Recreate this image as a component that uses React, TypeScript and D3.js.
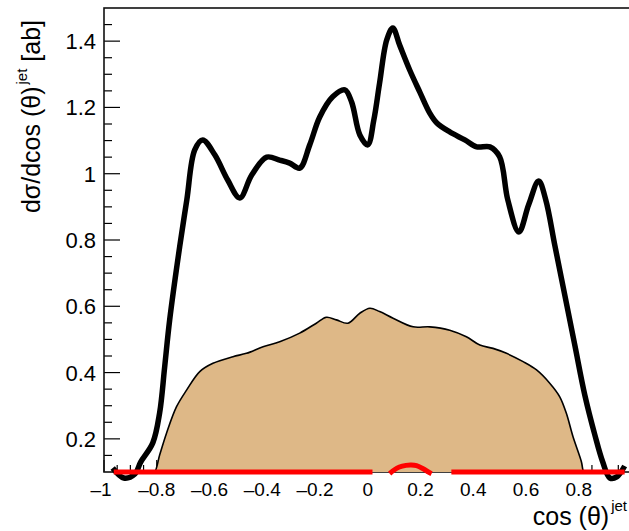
import React from 'react';
import * as d3 from 'd3';

const W = 629;
const H = 531;
const FONT = 'Liberation Sans, Arial, Helvetica, sans-serif';

// Total cross section (thick black curve)
const totalX = [-0.967, -0.925, -0.883, -0.861, -0.815, -0.789, -0.77, -0.751, -0.713, -0.686, -0.656, -0.626, -0.58, -0.531, -0.485, -0.44, -0.383, -0.334, -0.296, -0.258, -0.22, -0.182, -0.133, -0.087, -0.061, -0.03, 0.0, 0.023, 0.045, 0.072, 0.095, 0.121, 0.159, 0.197, 0.235, 0.262, 0.311, 0.368, 0.413, 0.463, 0.5, 0.531, 0.573, 0.61, 0.648, 0.675, 0.709, 0.747, 0.785, 0.823, 0.861, 0.891, 0.918, 0.944, 0.974];
const totalY = [0.112, 0.082, 0.094, 0.13, 0.188, 0.279, 0.417, 0.559, 0.78, 0.921, 1.072, 1.102, 1.057, 0.981, 0.927, 0.996, 1.05, 1.041, 1.032, 1.017, 1.087, 1.171, 1.232, 1.253, 1.216, 1.117, 1.087, 1.162, 1.274, 1.404, 1.44, 1.388, 1.313, 1.247, 1.183, 1.153, 1.126, 1.102, 1.081, 1.081, 1.051, 0.921, 0.824, 0.906, 0.978, 0.921, 0.785, 0.634, 0.483, 0.332, 0.212, 0.13, 0.082, 0.085, 0.118];

// Filled component (tan histogram)
const fillX = [-0.818, -0.808, -0.789, -0.763, -0.725, -0.687, -0.637, -0.587, -0.511, -0.46, -0.397, -0.334, -0.258, -0.195, -0.157, -0.119, -0.075, -0.03, 0.008, 0.045, 0.096, 0.172, 0.235, 0.311, 0.374, 0.425, 0.475, 0.526, 0.589, 0.64, 0.69, 0.728, 0.753, 0.778, 0.81, 0.816, 0.82];
const fillY = [0.1, 0.1, 0.151, 0.217, 0.297, 0.347, 0.403, 0.428, 0.448, 0.458, 0.478, 0.493, 0.519, 0.549, 0.567, 0.559, 0.549, 0.579, 0.594, 0.584, 0.564, 0.538, 0.538, 0.528, 0.508, 0.483, 0.473, 0.458, 0.433, 0.408, 0.368, 0.327, 0.277, 0.207, 0.131, 0.106, 0.1];

// Interference term (red), NaN marks a break in the line
const redX = [-0.963, 0.018, NaN, 0.083, 0.1, 0.12, 0.145, 0.165, 0.185, 0.21, 0.23, 0.242, NaN, 0.317, 0.974];
const redY = [0.1, 0.1, NaN, 0.095, 0.106, 0.115, 0.12, 0.121, 0.119, 0.11, 0.1, 0.095, NaN, 0.1, 0.1];

const yTicks = [0.2, 0.4, 0.6, 0.8, 1.0, 1.2, 1.4];
const yTickLabels = ['0.2', '0.4', '0.6', '0.8', '1', '1.2', '1.4'];
const xTicks = [-1, -0.8, -0.6, -0.4, -0.2, 0, 0.2, 0.4, 0.6, 0.8];
const xTickLabels = ['\u20131', '\u20130.8', '\u20130.6', '\u20130.4', '\u20130.2', '0', '0.2', '0.4', '0.6', '0.8'];

export default function App() {
  const x = d3.scaleLinear().domain([-1, 1]).range([104, 631.5]);
  const y = d3.scaleLinear().domain([0.1, 1.5]).range([472, 8]);

  const totalPts: [number, number][] = totalX.map((v, i) => [v, totalY[i]]);
  const fillPts: [number, number][] = fillX.map((v, i) => [v, fillY[i]]);
  const redPts: [number, number][] = redX.map((v, i) => [v, redY[i]]);

  const smooth = d3.curveCatmullRom.alpha(0.5);
  const line = d3.line<[number, number]>().x(d => x(d[0])).y(d => y(d[1])).curve(smooth);
  const area = d3
    .area<[number, number]>()
    .x(d => x(d[0]))
    .y0(y(0.1))
    .y1(d => y(d[1]))
    .curve(smooth);
  const redLine = d3
    .line<[number, number]>()
    .defined(d => !isNaN(d[0]))
    .x(d => x(d[0]))
    .y(d => y(d[1]))
    .curve(smooth);

  const yMinor = d3.range(0.15, 1.5, 0.05).filter(v => !yTicks.some(t => Math.abs(t - v) < 1e-6));
  const xMinor = d3.range(-0.95, 1.0, 0.05).filter(v => !xTicks.some(t => Math.abs(t - v) < 1e-6));

  const [xl, xr] = x.range();
  const [yb, yt] = y.range();

  return (
    <svg
      width={W}
      height={H}
      style={{ position: 'absolute', left: 0, top: 0, background: '#fff' }}
      fontFamily={FONT}
    >
      <rect x={0} y={0} width={W} height={H} fill="#fff" />

      {/* axis ticks */}
      <g stroke="#000" strokeWidth={1.2}>
        {yTicks.map(t => (
          <line key={'ym' + t} x1={xl} x2={xl + 16} y1={y(t)} y2={y(t)} />
        ))}
        {yMinor.map(t => (
          <line key={'yn' + t} x1={xl} x2={xl + 8} y1={y(t)} y2={y(t)} />
        ))}
        {xTicks.map(t => (
          <line key={'xm' + t} x1={x(t)} x2={x(t)} y1={yb} y2={yb - 12} />
        ))}
        {xMinor.map(t => (
          <line key={'xn' + t} x1={x(t)} x2={x(t)} y1={yb} y2={yb - 7} />
        ))}
      </g>

      {/* frame */}
      <rect x={xl} y={yt} width={xr - xl} height={yb - yt} fill="none" stroke="#111" strokeWidth={1.6} />

      {/* tan component */}
      <path d={area(fillPts) ?? ''} fill="#deb887" stroke="none" />
      <path d={line(fillPts) ?? ''} fill="none" stroke="#000" strokeWidth={1.6} />

      {/* total */}
      <path d={line(totalPts) ?? ''} fill="none" stroke="#000" strokeWidth={5.5} strokeLinejoin="round" />

      {/* red term */}
      <path d={redLine(redPts) ?? ''} fill="none" stroke="#ff0000" strokeWidth={5} />

      {/* y tick labels */}
      <g fontSize={22} textAnchor="end" fill="#000">
        {yTicks.map((t, i) => (
          <text key={'yl' + t} x={96} y={y(t) + 8}>
            {yTickLabels[i]}
          </text>
        ))}
      </g>

      {/* x tick labels */}
      <g fontSize={19} textAnchor="middle" fill="#000">
        {xTicks.map((t, i) => (
          <text key={'xl' + t} x={x(t) - (t === -1 ? 3 : 0)} y={496}>
            {xTickLabels[i]}
          </text>
        ))}
      </g>

      {/* axis titles */}
      <text x={627} y={525} fontSize={25} textAnchor="end" fill="#000">
        cos (θ)
        <tspan dx={2} dy={-14} fontSize={15}>jet</tspan>
      </text>
      <text transform="translate(40,20) rotate(-90)" fontSize={25} textAnchor="end" fill="#000">
        dσ/dcos (θ)
        <tspan dx={2} dy={-13} fontSize={15}>jet</tspan>
        <tspan dy={13}> [ab]</tspan>
      </text>
    </svg>
  );
}
